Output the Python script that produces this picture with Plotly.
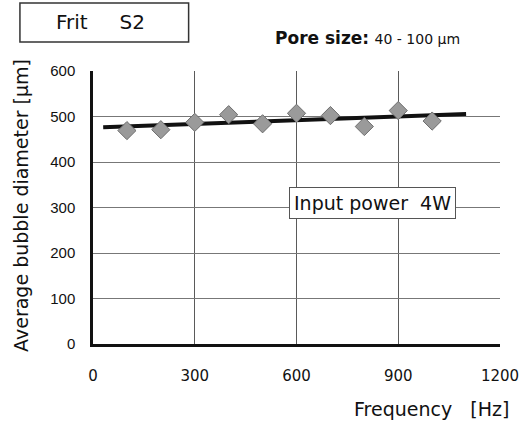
import numpy as np
import plotly.graph_objects as go

freq = [100, 200, 300, 400, 500, 600, 700, 800, 900, 1000]
diam = [469, 471, 487, 504, 484, 507, 502, 478, 513, 490]
x_ticks = [0, 300, 600, 900, 1200]
y_ticks = [0, 100, 200, 300, 400, 500, 600]
trend_span = [30, 1100]

slope, intercept = np.polyfit(freq, diam, 1)
trend_y = [slope * v + intercept for v in trend_span]

FONT = "Liberation Sans"
TFONT = "DejaVu Sans"

fig = go.Figure()
fig.add_trace(go.Scatter(
    x=trend_span, y=trend_y, mode="lines",
    line=dict(color="#111111", width=4), showlegend=False, hoverinfo="skip"))
fig.add_trace(go.Scatter(
    x=freq, y=diam, mode="markers",
    marker=dict(symbol="diamond", size=14, color="#9a9a9a",
                line=dict(color="#6e6e6e", width=1)),
    showlegend=False))

pw = 531 - 92.5 - 23.5
ph = 423 - 71 - 79
def px(xp):
    return (xp - 92.5) / pw
def py(yp):
    return (423 - 79 - yp) / ph

fig.update_layout(
    width=531, height=423,
    margin=dict(l=92.5, r=23.5, t=71, b=79),
    paper_bgcolor="white", plot_bgcolor="white",
    font=dict(family=FONT, size=14, color="#111"),
    xaxis=dict(range=[0, 1200], tickvals=x_ticks, showgrid=True,
               gridcolor="#5a5a5a", gridwidth=1, zeroline=False,
               showline=True, linecolor="#111", linewidth=2.5,
               ticks="", ticklabelstandoff=16,
               tickfont=dict(family=TFONT, size=15)),
    yaxis=dict(range=[0, 600], tickvals=y_ticks, showgrid=True,
               gridcolor="#777777", gridwidth=1, zeroline=False,
               showline=True, linecolor="#111", linewidth=2.5,
               ticks="", ticklabelstandoff=12,
               tickfont=dict(family=FONT, size=15)),
    annotations=[
        dict(text="Input power  4W", x=823, y=310, xref="x", yref="y",
             showarrow=False, bgcolor="white", bordercolor="#555",
             borderwidth=1, borderpad=4,
             font=dict(family=TFONT, size=19, color="#111")),
        dict(text="Frit     S2", x=px(100), y=py(22), xref="paper", yref="paper",
             xanchor="center", yanchor="middle", showarrow=False,
             font=dict(family=TFONT, size=20, color="#111")),
        dict(text="<b>Pore size:</b> <span style='font-size:14px'>40 - 100 \u03bcm</span>",
             x=px(372), y=py(38), xref="paper", yref="paper",
             xanchor="center", yanchor="middle", showarrow=False,
             font=dict(family=TFONT, size=17, color="#111")),
        dict(text="Frequency   [Hz]", xref="paper", yref="paper",
             x=px(519), y=py(409), xanchor="right", yanchor="middle",
             showarrow=False, font=dict(family=TFONT, size=19, color="#111")),
        dict(text="Average bubble diameter [\u03bcm]", xref="paper", yref="paper",
             x=px(19), y=py(205), xanchor="center", yanchor="middle",
             textangle=-90, showarrow=False,
             font=dict(family=TFONT, size=19, color="#111")),
    ],
    shapes=[
        dict(type="rect", xref="paper", yref="paper",
             x0=px(18), x1=px(190), y0=py(42), y1=py(3),
             line=dict(color="#333", width=1.5), fillcolor="rgba(0,0,0,0)"),
    ],
)

fig.write_html("out.html")
